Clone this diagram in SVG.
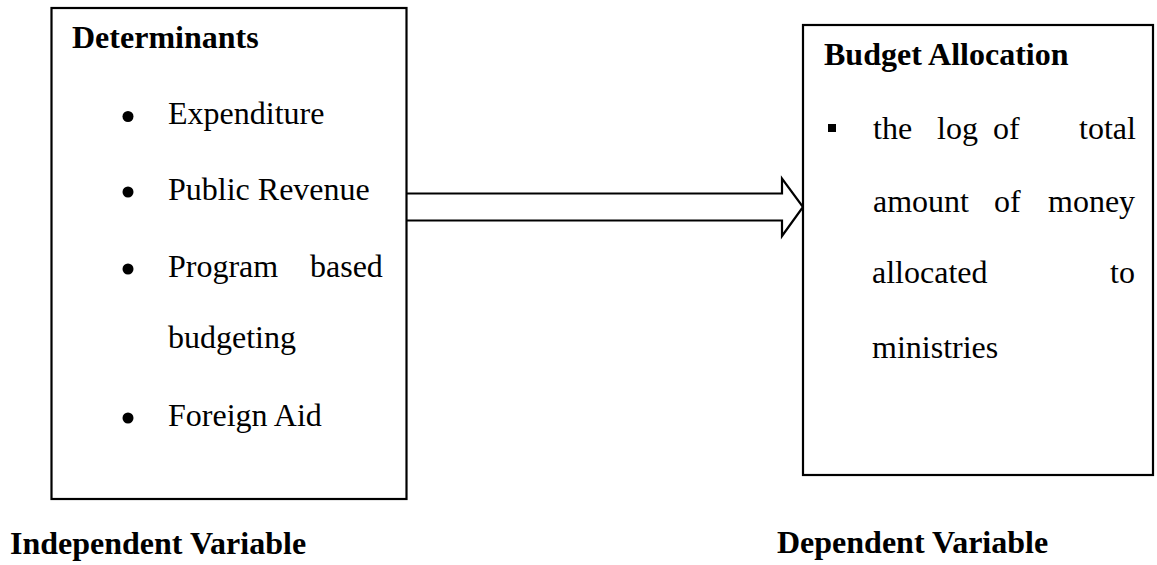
<svg xmlns="http://www.w3.org/2000/svg" width="1157" height="565" viewBox="0 0 1157 565">
<style>
.box{fill:#fff;stroke:#000;stroke-width:2.2}
.t{font-family:"Liberation Serif","Times New Roman",serif;font-size:32px;fill:#000}
.b{font-weight:bold}
.arrow{fill:#fff;stroke:#000;stroke-width:2.2;stroke-linejoin:miter}
</style>
<rect width="1157" height="565" fill="#fff"/>
<g id="connectors">
<polyline class="arrow" points="406,193.5 782,193.5 782,178.5 803,207 782,236 782,220.5 406,220.5"/>
</g>
<g id="independent">
<rect class="box" x="51.5" y="8" width="355" height="491"/>
<text class="t b" x="72" y="48">Determinants</text>
<circle cx="128" cy="116.5" r="5.5"/>
<text class="t" x="168" y="124">Expenditure</text>
<circle cx="128" cy="192" r="5.5"/>
<text class="t" x="168" y="200">Public Revenue</text>
<circle cx="128" cy="269" r="5.5"/>
<text class="t" x="168" y="277">Program</text>
<text class="t" x="310" y="277">based</text>
<text class="t" x="168" y="348">budgeting</text>
<circle cx="128" cy="418" r="5.5"/>
<text class="t" x="168" y="426">Foreign Aid</text>
</g>
<g id="dependent">
<rect class="box" x="803" y="25" width="350" height="450"/>
<text class="t b" x="824" y="65">Budget Allocation</text>
<rect x="828" y="124" width="8" height="8"/>
<text class="t" x="873" y="139">the</text>
<text class="t" x="937" y="139">log</text>
<text class="t" x="993" y="139">of</text>
<text class="t" x="1079" y="139">total</text>
<text class="t" x="873" y="212">amount</text>
<text class="t" x="994" y="212">of</text>
<text class="t" x="1048" y="212">money</text>
<text class="t" x="872" y="283">allocated</text>
<text class="t" x="1110" y="283">to</text>
<text class="t" x="872" y="358">ministries</text>
</g>
<g id="labels">
<text class="t b" x="10" y="554">Independent Variable</text>
<text class="t b" x="777" y="553">Dependent Variable</text>
</g>
</svg>
